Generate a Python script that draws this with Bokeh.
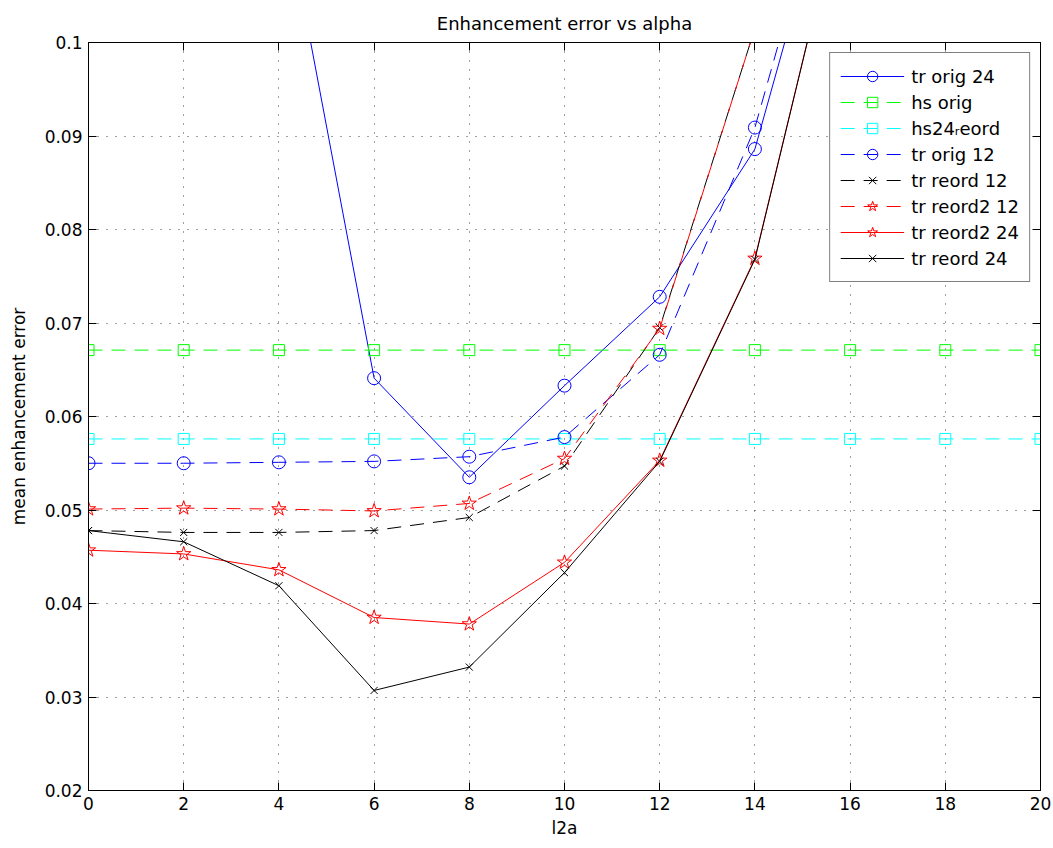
from bokeh.plotting import figure
from bokeh.models import (Range1d, LinearAxis, FixedTicker, CustomJSTickFormatter,
                          Legend, LegendItem, ColumnDataSource)
from bokeh.embed import file_html
from bokeh.resources import INLINE

# ---- data ----
l2a = [0, 2, 4, 6, 8, 10, 12, 14, 16, 18, 20]
tr_orig_24 = [0.200, 0.160, 0.118, 0.0641, 0.0535, 0.0633, 0.0728, 0.0886, 0.125, 0.170, 0.220]
hs_orig = [0.0671, 0.0671, 0.0671, 0.0671, 0.0671, 0.0671, 0.0671, 0.0671, 0.0671, 0.0671, 0.0671]
hs24_reord = [0.0576, 0.0576, 0.0576, 0.0576, 0.0576, 0.0576, 0.0576, 0.0576, 0.0576, 0.0576, 0.0576]
tr_orig_12 = [0.0550, 0.0550, 0.0551, 0.0552, 0.0557, 0.0578, 0.0666, 0.0909, 0.127, 0.170, 0.220]
tr_reord_12 = [0.0478, 0.0476, 0.0476, 0.0478, 0.0492, 0.0547, 0.0695, 0.1015, 0.140, 0.190, 0.240]
tr_reord2_12 = [0.0501, 0.0502, 0.0501, 0.0499, 0.0507, 0.0555, 0.0694, 0.1015, 0.140, 0.190, 0.240]
tr_reord2_24 = [0.0457, 0.0453, 0.0436, 0.0385, 0.0378, 0.0444, 0.0553, 0.0769, 0.119, 0.160, 0.210]
tr_reord_24 = [0.0478, 0.0466, 0.0419, 0.0307, 0.0332, 0.0433, 0.0552, 0.0768, 0.119, 0.160, 0.210]

x_ticks = [0, 2, 4, 6, 8, 10, 12, 14, 16, 18, 20]
y_ticks = [0.02, 0.03, 0.04, 0.05, 0.06, 0.07, 0.08, 0.09, 0.1]

title_text = "Enhancement error vs alpha"
x_label = "l2a"
y_label = "mean enhancement error"

series = [
    ("tr orig 24", tr_orig_24, "#0000ff", "solid", "circle", 13),
    ("hs orig", hs_orig, "#00ff00", "14 9", "square", 11),
    ("hs24\u1d63eord", hs24_reord, "#00ffff", "14 9", "square", 11),
    ("tr orig 12", tr_orig_12, "#0000ff", "14 9", "circle", 13),
    ("tr reord 12", tr_reord_12, "#000000", "14 9", "x", 10),
    ("tr reord2 12", tr_reord2_12, "#ff0000", "14 9", "star", 15),
    ("tr reord2 24", tr_reord2_24, "#ff0000", "solid", "star", 15),
    ("tr reord 24", tr_reord_24, "#000000", "solid", "x", 10),
]

FONT = "DejaVu Sans"

p = figure(width=1053, height=848, x_range=Range1d(0, 20), y_range=Range1d(0.02, 0.1),
           output_backend="svg", toolbar_location=None, title=title_text,
           min_border_left=88, min_border_right=13, min_border_top=42, min_border_bottom=58,
           background_fill_color="white", border_fill_color="white")

p.title.align = "center"
p.title.text_font = FONT
p.title.text_font_size = "18px"
p.title.text_font_style = "normal"
p.title.text_color = "black"
p.title.standoff = 18
p.outline_line_color = "black"
p.outline_line_width = 1

for ax in p.xaxis:
    ax.ticker = FixedTicker(ticks=x_ticks)
for ax in p.yaxis:
    ax.ticker = FixedTicker(ticks=y_ticks)
    ax.formatter = CustomJSTickFormatter(code="return Number(tick.toFixed(2)).toString();")

for ax in list(p.xaxis) + list(p.yaxis):
    ax.major_tick_in = 8
    ax.major_tick_out = 0
    ax.minor_tick_line_color = None
    ax.major_label_text_font = FONT
    ax.major_label_text_font_size = "17px"
    ax.major_label_text_color = "black"
    ax.major_label_standoff = 6
    ax.axis_label_text_font = FONT
    ax.axis_label_text_font_size = "17px"
    ax.axis_label_text_font_style = "normal"
    ax.axis_label_text_color = "black"
    ax.axis_line_color = "black"
    ax.major_tick_line_color = "black"

p.xaxis.axis_label = x_label
p.xaxis.axis_label_standoff = 5
p.yaxis.axis_label = y_label
p.yaxis.axis_label_standoff = 13

# mirrored ticks on top and right (box style), no labels
blank = CustomJSTickFormatter(code="return '';")
top_ax = LinearAxis(ticker=FixedTicker(ticks=x_ticks), formatter=blank,
                    major_label_text_font_size="8px",
                    major_tick_in=8, major_tick_out=0, minor_tick_line_color=None,
                    major_label_standoff=0, axis_line_color="black", major_tick_line_color="black")
right_ax = LinearAxis(ticker=FixedTicker(ticks=y_ticks), formatter=blank,
                      major_label_text_font_size="8px",
                      major_tick_in=8, major_tick_out=0, minor_tick_line_color=None,
                      major_label_standoff=0, axis_line_color="black", major_tick_line_color="black")
p.add_layout(top_ax, "above")
p.add_layout(right_ax, "right")

p.xgrid.ticker = FixedTicker(ticks=x_ticks)
p.ygrid.ticker = FixedTicker(ticks=y_ticks)
for g in (p.xgrid, p.ygrid):
    g.grid_line_color = "black"
    g.grid_line_alpha = 0.75
    g.grid_line_dash = "1 8"
    g.grid_line_width = 1

items = []
for name, vals, color, dash, marker, size in series:
    src = ColumnDataSource(dict(x=l2a, y=vals))
    ln = p.line("x", "y", source=src, line_color=color, line_width=1, line_dash=dash)
    sc = p.scatter("x", "y", source=src, marker=marker, size=size, line_color=color,
                   fill_color=None, line_width=1)
    items.append(LegendItem(label=name, renderers=[ln, sc]))

legend = Legend(items=items, location="top_right", margin=10, padding=10, spacing=0,
                glyph_width=64, glyph_height=26, label_height=26, label_standoff=7,
                label_text_font=FONT, label_text_font_size="18px", label_text_color="black",
                border_line_color="black", border_line_width=1,
                background_fill_color="white", background_fill_alpha=1.0)
p.add_layout(legend)

open("out.html", "w").write(file_html(p, INLINE))
